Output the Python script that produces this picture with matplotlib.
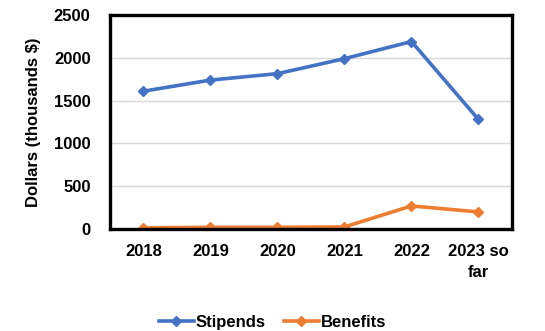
import matplotlib
matplotlib.use("Agg")
import matplotlib.pyplot as plt

# values (thousands of dollars)
years = ["2018", "2019", "2020", "2021", "2022", "2023 so\nfar"]
stipends = [1610, 1740, 1815, 1990, 2190, 1280]
benefits = [15, 20, 20, 25, 270, 200]
y_ticks = [0, 500, 1000, 1500, 2000, 2500]

plt.rcParams['font.family'] = ['Liberation Sans', 'DejaVu Sans']
plt.rcParams['font.weight'] = 'bold'
FS = 12

fig = plt.figure(figsize=(5.45, 3.31), dpi=100)
ax = fig.add_axes([0.2018, 0.308, 0.7376, 0.6467])

x = range(len(years))
ax.plot(x, stipends, color='#4472C4', lw=2.6, marker='D', ms=5, label='Stipends')
ax.plot(x, benefits, color='#ED7D31', lw=2.6, marker='D', ms=5, label='Benefits')

ax.set_xlim(-0.5, len(years) - 0.5)
ax.set_ylim(0, 2500)
ax.set_yticks(y_ticks)
ax.set_xticks(list(x))
ax.set_xticklabels(years, linespacing=1.5)
ax.tick_params(axis='both', length=0, labelsize=FS)
ax.tick_params(axis='y', pad=14)
ax.tick_params(axis='x', pad=11)
for lbl in ax.get_xticklabels() + ax.get_yticklabels():
    lbl.set_fontweight('bold')

ax.grid(axis='y', color='#d9d9d9', lw=1)
ax.set_axisbelow(True)
for sp in ax.spines.values():
    sp.set_linewidth(2.4)
    sp.set_color('black')

ax.set_ylabel('Dollars (thousands $)', fontsize=FS, fontweight='bold', labelpad=9)

fig.legend(loc='center', bbox_to_anchor=(0.5, 0.025), ncol=2, frameon=False,
           prop={'size': FS, 'weight': 'bold'}, handlelength=2.1,
           columnspacing=1.1, handletextpad=0.1)

fig.savefig('out.png', dpi=100, facecolor='white')
